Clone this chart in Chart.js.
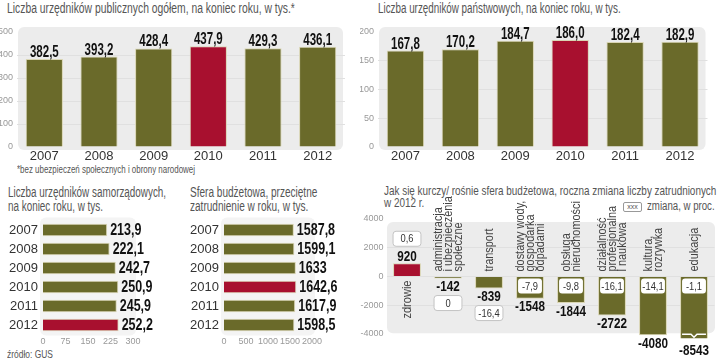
<!DOCTYPE html>
<html>
<head>
<meta charset="utf-8">
<script src="https://cdn.jsdelivr.net/npm/chart.js"></script>
<style>
  body { margin: 0; width: 720px; height: 359px; position: relative; background: #fff; overflow: hidden; }
  .t { position: absolute; white-space: nowrap; color: #555; font-family: "Liberation Sans", Arial, sans-serif; font-size: 14px; line-height: 14px; transform-origin: left top; }
  canvas { position: absolute; }
</style>
</head>
<body>
<div class="t" data-w="288" style="left:7px;top:1px">Liczba urzędników publicznych ogółem, na koniec roku, w tys.*</div>
<div class="t" data-w="243" style="left:378px;top:1px">Liczba urzędników państwowych, na koniec roku, w tys.</div>
<div class="t" data-w="178" style="left:17px;top:164px;font-size:10px;line-height:11px">*bez ubezpieczeń społecznych i obrony narodowej</div>
<div class="t" data-w="158" style="left:8px;top:185px">Liczba urzędników samorządowych,<br>na koniec roku, w tys.</div>
<div class="t" data-w="127" style="left:190px;top:185px">Sfera budżetowa, przeciętne<br>zatrudnienie w roku, w tys.</div>
<div class="t" data-w="332" style="left:384px;top:185px;line-height:11.5px;font-size:13.5px">Jak się kurczy/ rośnie sfera budżetowa, roczna zmiana liczby zatrudnionych<br>w 2012 r.</div>
<div class="t" style="left:623px;top:202px;width:17px;height:8px;border:1px solid #999;border-radius:2px;font-size:7px;line-height:8px;text-align:center">xxx</div>
<div class="t" data-w="68" style="left:647px;top:199px;font-size:12.5px">zmiana, w proc.</div>
<div class="t" data-w="46" style="left:7px;top:347px;font-size:11px">źródło: GUS</div>

<canvas id="c1" width="360" height="175" style="left:0;top:0"></canvas>
<canvas id="c2" width="360" height="175" style="left:360px;top:0"></canvas>
<canvas id="c3" width="180" height="189" style="left:0;top:170px"></canvas>
<canvas id="c4" width="180" height="189" style="left:180px;top:170px"></canvas>
<canvas id="c5" width="360" height="189" style="left:360px;top:170px"></canvas>

<script>
const FONT = '"Liberation Sans", Arial, sans-serif';
const OLIVE = '#6a6a2a';
const RED = '#a8102f';

const years = ['2007', '2008', '2009', '2010', '2011', '2012'];
const publicTotal = [382.5, 393.2, 428.4, 437.9, 429.3, 436.1];
const stateStaff = [167.8, 170.2, 184.7, 186.0, 182.4, 182.9];
const localStaff = [213.9, 222.1, 242.7, 250.9, 245.9, 252.2];
const budgetAvg = [1587.8, 1599.1, 1633, 1642.6, 1617.9, 1598.5];

const yTicks1 = [0, 100, 200, 300, 400, 500];
const yTicks2 = [0, 50, 100, 150, 200];
const xTicks3 = [0, 75, 150, 225, 300];
const xTicks4 = [0, 500, 1000, 1500, 2000];

const sectors = [
  ['zdrowie'],
  ['administracja', 'i ubezpieczenia', 'społeczne'],
  ['transport'],
  ['dostawy wody,', 'gospodarka', 'odpadami'],
  ['obsługa', 'nieruchomości'],
  ['działalność', 'profesjonalna', 'i naukowa'],
  ['kultura,', 'rozrywka'],
  ['edukacja']
];
const sectorChange = [920, -142, -839, -1548, -1844, -2722, -4080, -8543];
const sectorPct = [0.6, 0, -16.4, -7.9, -9.8, -16.1, -14.1, -1.1];
const yTicks5 = [-4000, -2000, 0, 2000, 4000];

// squeeze the html titles to the width of the condensed originals
document.querySelectorAll('[data-w]').forEach(el => {
  el.style.transform = 'scaleX(' + (+el.dataset.w / el.offsetWidth) + ')';
});

const comma = s => String(s).replace('.', ',');
const fmt1 = v => comma(v.toFixed(1));
const fmtAuto = v => Number.isInteger(v) ? String(v) : fmt1(v);
const plain = v => String(v);
const colorsFor = (n, hi) => Array.from({ length: n }, (_, i) => i === hi ? RED : OLIVE);

function roundRect(ctx, x, y, w, h, r) {
  ctx.beginPath();
  ctx.moveTo(x + r, y);
  ctx.arcTo(x + w, y, x + w, y + h, r);
  ctx.arcTo(x + w, y + h, x, y + h, r);
  ctx.arcTo(x, y + h, x, y, r);
  ctx.arcTo(x, y, x + w, y, r);
  ctx.closePath();
}

// text squeezed horizontally (fake condensed face)
function squeezed(ctx, text, x, y, sx) {
  ctx.save();
  ctx.translate(x, y);
  ctx.scale(sx, 1);
  ctx.fillText(text, 0, 0);
  ctx.restore();
}

// grey panel behind the plot
const panelBg = {
  id: 'panelBg',
  beforeDraw(chart, args, o) {
    const a = chart.chartArea, ctx = chart.ctx;
    ctx.save();
    ctx.fillStyle = o.color || '#ececec';
    roundRect(ctx, a.left + (o.l || 0), a.top + (o.t || 0), a.width - (o.l || 0) + (o.r || 0), a.height - (o.t || 0) + (o.b || 0), 6);
    ctx.fill();
    ctx.restore();
  }
};

// bold numbers next to bars
const valueLabels = {
  id: 'valueLabels',
  afterDatasetsDraw(chart, args, o) {
    if (!o.fmt) return;
    const ctx = chart.ctx;
    const meta = chart.getDatasetMeta(0);
    const data = chart.data.datasets[0].data;
    ctx.save();
    ctx.font = 'bold ' + o.size + 'px ' + FONT;
    ctx.fillStyle = '#111';
    meta.data.forEach((bar, i) => {
      if (chart.options.indexAxis === 'y') {
        ctx.textAlign = 'left';
        ctx.textBaseline = 'middle';
        squeezed(ctx, o.fmt(data[i]), bar.x + 3, bar.y + 1, o.sx);
      } else {
        ctx.textAlign = 'center';
        ctx.textBaseline = 'alphabetic';
        squeezed(ctx, o.fmt(data[i]), bar.x, bar.y - 2, o.sx);
      }
    });
    ctx.restore();
  }
};

function columnChart(id, values, hi, max, ticks, yw, rightPad) {
  return new Chart(document.getElementById(id), {
    type: 'bar',
    data: {
      labels: years,
      datasets: [{
        data: values,
        backgroundColor: colorsFor(values.length, hi),
        borderColor: '#d9d5b3',
        borderWidth: 1,
        barPercentage: 0.68,
        categoryPercentage: 1
      }]
    },
    options: {
      responsive: false,
      animation: false,
      events: [],
      layout: { padding: { top: 32, right: rightPad, bottom: 10, left: 0 } },
      plugins: {
        legend: { display: false },
        tooltip: { enabled: false },
        panelBg: { l: 1, r: -2, t: -5, b: 3 },
        valueLabels: { fmt: fmt1, size: 16, sx: 0.72 }
      },
      scales: {
        x: {
          grid: { display: false, drawTicks: false },
          border: { display: false },
          ticks: { color: '#333', font: { size: 13, family: FONT }, padding: 2 },
          afterFit: s => { s.height = 18; }
        },
        y: {
          min: 0, max: max,
          afterBuildTicks: a => { a.ticks = ticks.map(v => ({ value: v })); },
          grid: { color: c => (c.tick && c.tick.value > 0 && c.tick.value < max) ? '#e0e0e0' : 'rgba(0,0,0,0)', drawTicks: false },
          border: { display: false },
          ticks: { color: '#999', font: { size: 9, family: FONT }, padding: 4, callback: plain },
          afterFit: s => { s.width = yw; }
        }
      }
    },
    plugins: [panelBg, valueLabels]
  });
}

function rowChart(id, values, hi, max, ticks, yw, rightPad) {
  return new Chart(document.getElementById(id), {
    type: 'bar',
    data: {
      labels: years,
      datasets: [{
        data: values,
        backgroundColor: colorsFor(values.length, hi),
        borderColor: '#d9d5b3',
        borderWidth: 1,
        barPercentage: 0.66,
        categoryPercentage: 1
      }]
    },
    options: {
      indexAxis: 'y',
      responsive: false,
      animation: false,
      events: [],
      layout: { padding: { top: 50.5, right: rightPad, bottom: 10.5, left: 0 } },
      plugins: {
        legend: { display: false },
        tooltip: { enabled: false },
        panelBg: { color: '#f4f4f4', l: -3, r: 3, t: -3, b: 1 },
        valueLabels: { fmt: fmtAuto, size: 16, sx: 0.78 }
      },
      scales: {
        y: {
          grid: { display: false, drawTicks: false },
          border: { display: false },
          ticks: { color: '#333', font: { size: 13, family: FONT }, padding: 5 },
          afterFit: s => { s.width = yw; }
        },
        x: {
          min: 0, max: max,
          afterBuildTicks: a => { a.ticks = ticks.map(v => ({ value: v })); },
          grid: { display: false, drawTicks: false },
          border: { display: false },
          ticks: { color: '#999', font: { size: 9, family: FONT }, padding: 2, maxRotation: 0, minRotation: 0, autoSkip: false, callback: plain },
          afterFit: s => { s.height = 14; }
        }
      }
    },
    plugins: [panelBg, valueLabels]
  });
}

columnChart('c1', publicTotal, 3, 500, yTicks1, 17, 15);
columnChart('c2', stateStaff, 3, 200, yTicks2, 18, 12.5);
rowChart('c3', localStaff, 5, 300, xTicks3, 43, 47);
rowChart('c4', budgetAvg, 3, 2000, xTicks4, 44, 48);

// change by sector: labels, percent boxes, break mark
const sectorDecor = {
  id: 'sectorDecor',
  afterDatasetsDraw(chart) {
    const ctx = chart.ctx;
    const ys = chart.scales.y;
    const meta = chart.getDatasetMeta(0);
    const zero = ys.getPixelForValue(0);
    const bottom = chart.chartArea.bottom;
    ctx.save();
    meta.data.forEach((bar, i) => {
      const v = sectorChange[i];
      const cx = bar.x, w = bar.width;
      const l = cx - w / 2;

      // category label, rotated
      const lines = sectors[i];
      ctx.save();
      ctx.font = '13px ' + FONT;
      ctx.fillStyle = '#444';
      ctx.textBaseline = 'middle';
      ctx.translate(cx, v >= 0 ? zero + 4 : zero - 5);
      ctx.rotate(-Math.PI / 2);
      ctx.textAlign = v >= 0 ? 'right' : 'left';
      lines.forEach((t, k) => squeezed(ctx, t, 0, (k - (lines.length - 1) / 2) * 10, v >= 0 ? 0.85 : 0.84));
      ctx.restore();

      // break mark on the clipped bar
      const clipped = v < ys.min;
      if (clipped) {
        const y = bottom - 4;
        ctx.strokeStyle = '#fff';
        ctx.lineWidth = 1.5;
        ctx.beginPath();
        ctx.moveTo(l + 2, y);
        ctx.lineTo(cx - 3, y);
        ctx.lineTo(cx, y + 3);
        ctx.lineTo(cx + 3, y);
        ctx.lineTo(l + w - 2, y);
        ctx.stroke();
      }

      // value
      ctx.font = 'bold 15px ' + FONT;
      ctx.fillStyle = '#111';
      ctx.textAlign = 'center';
      const end = clipped ? bottom + 4 : bar.y;
      let edge;
      if (v >= 0) {
        ctx.textBaseline = 'alphabetic';
        squeezed(ctx, String(v), cx, end - 2, 0.78);
        edge = end - 14;
      } else {
        ctx.textBaseline = 'top';
        squeezed(ctx, String(v), cx, end + 1, 0.78);
        edge = end + 15;
      }

      // percent box
      const bh = 15;
      let by, bx = l, bw = w, border = true;
      if (v >= 0) by = edge - bh - 3;
      else if (v <= -1000) { by = zero + 2; bx = l + 2; bw = w - 4; border = false; }
      else by = edge + 2;
      ctx.fillStyle = '#fff';
      roundRect(ctx, bx, by, bw, bh, 3);
      ctx.fill();
      if (border) { ctx.strokeStyle = '#c4c4c4'; ctx.lineWidth = 1; ctx.stroke(); }
      ctx.font = '11px ' + FONT;
      ctx.fillStyle = '#333';
      ctx.textBaseline = 'middle';
      squeezed(ctx, comma(sectorPct[i]), cx, by + bh / 2 + 0.5, 0.85);
    });
    ctx.restore();
  }
};

new Chart(document.getElementById('c5'), {
  type: 'bar',
  data: {
    labels: sectors.map(s => s.join(' ')),
    datasets: [{
      data: sectorChange,
      backgroundColor: colorsFor(sectorChange.length, 0),
      borderColor: '#d9d5b3',
      borderWidth: 1,
      barPercentage: 0.68,
      categoryPercentage: 1,
      clip: 0
    }]
  },
  options: {
    responsive: false,
    animation: false,
    events: [],
    layout: { padding: { top: 49, right: 5.5, bottom: 20.7, left: 0 } },
    plugins: {
      legend: { display: false },
      tooltip: { enabled: false },
      panelBg: { l: 0.5, r: 0.5, t: 3, b: -5 }
    },
    scales: {
      x: { display: false },
      y: {
        min: -4300, max: 4000,
        afterBuildTicks: a => { a.ticks = yTicks5.map(v => ({ value: v })); },
        grid: { color: c => (c.tick && Math.abs(c.tick.value) < 4000) ? '#e0e0e0' : 'rgba(0,0,0,0)', drawTicks: false },
        border: { display: false },
        ticks: { color: '#999', font: { size: 9, family: FONT }, padding: 3, callback: plain },
        afterFit: s => { s.width = 26.5; }
      }
    }
  },
  plugins: [panelBg, sectorDecor]
});
</script>
</body>
</html>
